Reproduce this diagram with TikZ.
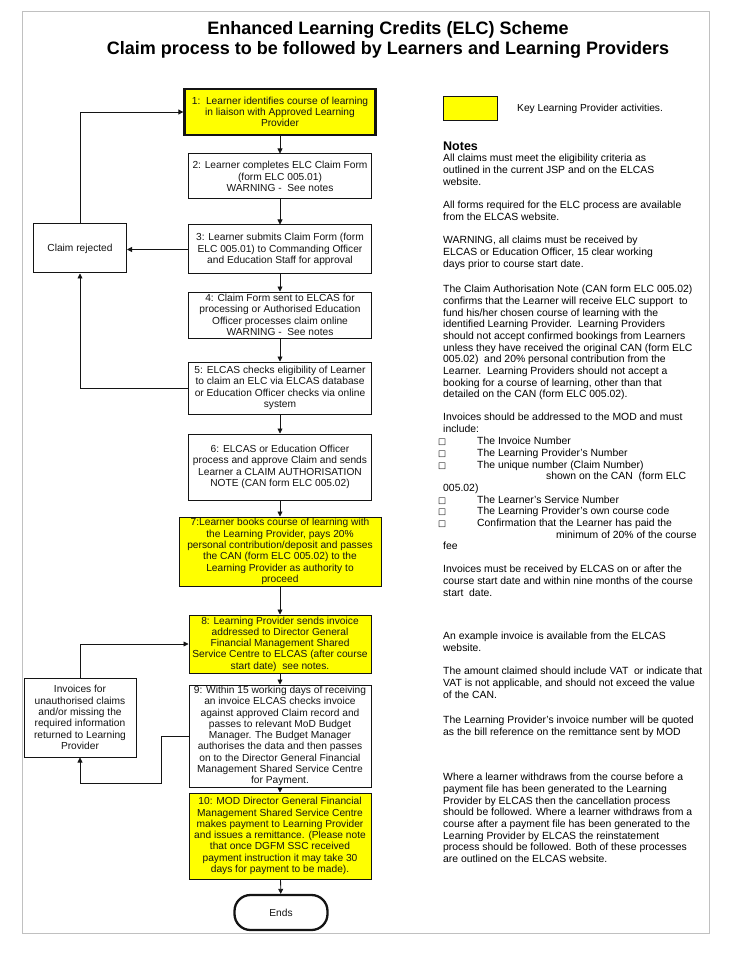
\documentclass[tikz,border=0pt]{standalone}
\usepackage{fontspec}
\setmainfont{Liberation Sans}
\newfontfamily\symfont{DejaVu Sans}
\usetikzlibrary{arrows.meta,positioning}
\definecolor{ELCYellow}{HTML}{FFFF00}
\definecolor{ELCFrame}{HTML}{C0C0C0}
\definecolor{ELCInk}{HTML}{141414}
\newcommand{\boxfont}{\fontsize{10.2}{11.3}\selectfont}
\newcommand{\notefont}{\fontsize{10.4}{11.68}\selectfont}
\newcommand{\listmark}{{\symfont\fontsize{8.5}{9}\selectfont □}}
\tikzset{
  arr/.style={-{Triangle[length=5pt,width=5pt]},ELCInk,line width=0.8pt},
  stepbox/.style={draw=ELCInk,line width=1pt,fill=white,align=center,
                  inner sep=1pt,font=\boxfont,text=ELCInk},
  stepkey/.style={stepbox,fill=ELCYellow},
  stepstart/.style={stepkey,line width=2.3pt},
  endsbox/.style={stepbox,line width=2.3pt,rounded corners=16pt},
  keybox/.style={draw=ELCInk,line width=1pt,fill=ELCYellow,
                 minimum width=54pt,minimum height=24pt},
  notes/.style={anchor=north west,align=left,inner sep=0pt,font=\notefont},
  noteline/.style={anchor=base west,inner sep=0pt,font=\notefont},
  notehead/.style={anchor=west,inner sep=0pt,font=\fontsize{12.5}{14}\selectfont\bfseries},
  titletext/.style={inner sep=0pt,font=\fontsize{18}{20}\selectfont\bfseries},
  frame/.style={draw=ELCFrame,line width=1pt},
}

\begin{document}
\begin{tikzpicture}[x=1pt,y=-1pt]
    \useasboundingbox (0,0) rectangle (734,957);
    \path[frame] (22,12) rectangle (709,933);

    \node[titletext] (title1) at (388,30) {Enhanced Learning Credits (ELC) Scheme};
    \node[titletext] (title2) at (388,50) {Claim process to be followed by Learners and Learning Providers};

    % main column
    \node[stepstart,minimum width=191pt,minimum height=46pt] (s1) at (280,112)
      {1:\ \ Learner identifies course of learning\\in liaison with Approved Learning\\Provider};
    \node[stepbox,minimum width=183pt,minimum height=45pt] (s2) at (280,176.5)
      {2: Learner completes ELC Claim Form\\(form ELC 005.01)\\WARNING -\ \ See notes};
    \node[stepbox,minimum width=183pt,minimum height=49pt] (s3) at (280,249.5)
      {3: Learner submits Claim Form (form\\ELC 005.01) to Commanding Officer\\and Education Staff for approval};
    \node[stepbox,minimum width=183pt,minimum height=46pt] (s4) at (280,315)
      {4: Claim Form sent to ELCAS for\\processing or Authorised Education\\Officer processes claim online\\WARNING -\ \ See notes};
    \node[stepbox,minimum width=183pt,minimum height=52pt] (s5) at (280,388)
      {5: ELCAS checks eligibility of Learner\\to claim an ELC via ELCAS database\\or Education Officer checks via online\\system};
    \node[stepbox,minimum width=183pt,minimum height=66pt] (s6) at (280,467)
      {6: ELCAS or Education Officer\\process and approve Claim and sends\\Learner a CLAIM AUTHORISATION\\NOTE (CAN form ELC 005.02)};
    \node[stepkey,minimum width=202pt,minimum height=69pt] (s7) at (280,551.5)
      {7:Learner books course of learning with\\the Learning Provider, pays 20\%\\personal contribution/deposit and passes\\the CAN (form ELC 005.02) to the\\Learning Provider as authority to\\proceed};
    \node[stepkey,minimum width=182pt,minimum height=58pt] (s8) at (280,644)
      {8: Learning Provider sends invoice\\addressed to Director General\\Financial Management Shared\\Service Centre to ELCAS (after course\\start date)\ \ see notes.};
    \node[stepbox,minimum width=182pt,minimum height=102pt] (s9) at (280,736)
      {9: Within 15 working days of receiving\\an invoice ELCAS checks invoice\\against approved Claim record and\\passes to relevant MoD Budget\\Manager. The Budget Manager\\authorises the data and then passes\\on to the Director General Financial\\Management Shared Service Centre\\for Payment.};
    \node[stepkey,minimum width=182pt,minimum height=86pt] (s10) at (280,836)
      {10: MOD Director General Financial\\Management Shared Service Centre\\makes payment to Learning Provider\\and issues a remittance. (Please note\\that once DGFM SSC received\\payment instruction it may take 30\\days for payment to be made).};
    \node[endsbox,minimum width=93pt,minimum height=35pt] (ends) at (281,912.5) {Ends};

    % side boxes
    \node[stepbox,minimum width=93pt,minimum height=49pt] (reject) at (80,248.5) {Claim rejected};
    \node[stepbox,minimum width=112pt,minimum height=79pt] (invreturn) at (80,717.5)
      {Invoices for\\unauthorised claims\\and/or missing the\\required information\\returned to Learning\\Provider};
    \coordinate (invloop) at (80,783);

    % connectors
    \draw[arr] (s1) -- (s2);
    \draw[arr] (s2) -- (s3);
    \draw[arr] (s3) -- (s4);
    \draw[arr] (s4) -- (s5);
    \draw[arr] (s5) -- (s6);
    \draw[arr] (s6) -- (s7);
    \draw[arr] (s7) -- (s8);
    \draw[arr] (s8) -- (s9);
    \draw[arr] (s9) -- (s10);
    \draw[arr] (s10) -- (ends);
    \draw[arr] (s3.west) -- (s3.west -| reject.east);
    \draw[arr] (reject.north) |- (s1.west);
    \draw[arr] (s5.west) -| (reject.south);
    \draw[arr] (s9.west) -- ++(-27,0) |- (invloop) -- (invreturn.south);
    \draw[arr] (invreturn.north) |- (s8.west);

    % key
    \node[keybox] (key) at (470,109) {};
    \node[anchor=west,inner sep=0pt,font=\boxfont] (keytext) at (517,109) {Key Learning Provider activities.};

    % notes column
    \node[notehead] (nhead) at (443,146) {Notes};
    \node[notes] (n1) at (443,154) {All claims must meet the eligibility criteria as\\outlined in the current JSP and on the ELCAS\\website.};
    \node[notes] (n2) at (443,201) {All forms required for the ELC process are available\\from the ELCAS website.};
    \node[notes] (n3) at (443,236) {WARNING, all claims must be received by\\ELCAS or Education Officer, 15 clear working\\days prior to course start date.};
    \node[notes] (n4) at (443,285) {The Claim Authorisation Note (CAN form ELC 005.02)\\confirms that the Learner will receive ELC support\ \ to\\fund his/her chosen course of learning with the\\identified Learning Provider.\ \ Learning Providers\\should not accept confirmed bookings from Learners\\unless they have received the original CAN (form ELC\\005.02)\ \ and 20\% personal contribution from the\\Learner.\ \ Learning Providers should not accept a\\booking for a course of learning, other than that\\detailed on the CAN (form ELC 005.02).};
    \node[notes] (n5) at (443,413) {Invoices should be addressed to the MOD and must\\include:};
    \foreach \item/\y [count=\i] in {The Invoice Number/441,The Learning Provider's Number/452.7,
        The unique number (Claim Number)/464.4,The Learner's Service Number/499.4,
        The Learning Provider's own course code/511.1,Confirmation that the Learner has paid the/522.8}{
      \node[noteline] (mark\i) at (438,\y+3.7) {\listmark};
      \node[noteline] (item\i) at (477,\y+3.7) {\item};
    }
    \node[noteline] (wrap1) at (546,479.8) {shown on the CAN\ \ (form ELC};
    \node[noteline] (wrap2) at (443,491.5) {005.02)};
    \node[noteline] (wrap3) at (556,538.2) {minimum of 20\% of the course};
    \node[noteline] (wrap4) at (443,549.9) {fee};
    \node[notes] (n6) at (443,565) {Invoices must be received by ELCAS on or after the\\course start date and within nine months of the course\\start\ \ date.};
    \node[notes] (n7) at (443,632) {An example invoice is available from the ELCAS\\website.};
    \node[notes] (n8) at (443,667) {The amount claimed should include VAT\ \ or indicate that\\VAT is not applicable, and should not exceed the value\\of the CAN.};
    \node[notes] (n9) at (443,716) {The Learning Provider's invoice number will be quoted\\as the bill reference on the remittance sent by MOD};
    \node[notes] (n10) at (443,773) {Where a learner withdraws from the course before a\\payment file has been generated to the Learning\\Provider by ELCAS then the cancellation process\\should be followed. Where a learner withdraws from a\\course after a payment file has been generated to the\\Learning Provider by ELCAS the reinstatement\\process should be followed. Both of these processes\\are outlined on the ELCAS website.};
  \end{tikzpicture}
\end{document}
